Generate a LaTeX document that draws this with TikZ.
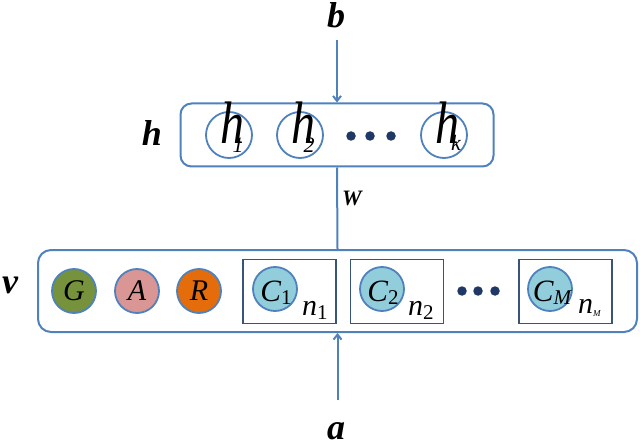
\documentclass[tikz,border=0pt]{standalone}
\usepackage{fontspec}
\setmainfont{Liberation Serif}
\usetikzlibrary{arrows.meta}
\definecolor{bl}{RGB}{79,129,189}
\definecolor{rectcol}{RGB}{56,84,122}
\definecolor{gcol}{RGB}{118,146,60}
\definecolor{acol}{RGB}{217,150,148}
\definecolor{rcol}{RGB}{228,108,10}
\definecolor{ccol}{RGB}{146,205,220}
\definecolor{dotcol}{RGB}{31,56,100}
\tikzset{
  layerbox/.style={draw=bl, line width=2pt, rounded corners=11pt, inner sep=0pt},
  unit/.style={circle, draw=bl, line width=1.8pt, minimum size=44pt, inner sep=0pt, font=\fontsize{30}{32}\selectfont\itshape},
  hunit/.style={circle, draw=bl, line width=1.8pt, minimum size=46pt, inner sep=0pt},
  cbox/.style={draw=rectcol, line width=1.8pt, minimum width=93pt, minimum height=64pt, inner sep=0pt},
  bigdot/.style={circle, fill=dotcol, minimum size=9.5pt, inner sep=0pt},
  conn/.style={draw=bl, line width=2pt},
  arr/.style={draw=bl, line width=2pt, -{Straight Barb[length=5pt,width=8pt]}},
  lbl/.style={font=\fontsize{36}{40}\selectfont\bfseries\itshape, inner sep=0pt, anchor=base},
  hglyph/.style={font=\fontsize{60}{62}\selectfont\itshape, inner sep=0pt},
  hsub/.style={font=\fontsize{22}{24}\selectfont\itshape, inner sep=0pt},
  nlbl/.style={font=\fontsize{30}{32}\selectfont\itshape, inner sep=0pt, anchor=base west}
}
\begin{document}
\begin{tikzpicture}[x=1pt,y=-1pt]
\useasboundingbox (0,0) rectangle (640,441);
% hidden layer
\node[layerbox, minimum width=313pt, minimum height=63pt] (hbox) at (337,135) {};
\node[hunit] (h1c) at (229,135) {};
\node[hunit] (h2c) at (300,135) {};
\node[hunit] (hkc) at (444,135) {};
\node[hglyph] (h1g) at (232,122.5) {\scalebox{0.8}[1]{h}};
\node[hglyph] (h2g) at (303,122.5) {\scalebox{0.8}[1]{h}};
\node[hglyph] (hkg) at (447,122.5) {\scalebox{0.8}[1]{h}};
\node[hsub] (h1s) at (238,145) {1};
\node[hsub] (h2s) at (309,145) {2};
\node[hsub] (hks) at (456,143) {k};
\node[bigdot] (hd1) at (351,136) {};
\node[bigdot] (hd2) at (370,136) {};
\node[bigdot] (hd3) at (391,136) {};
\node[lbl] (hl) at (152,146) {h};
% visible layer
\node[layerbox, minimum width=599pt, minimum height=82pt, rounded corners=13pt] (vbox) at (337.5,291) {};
\node[unit, fill=gcol] (G) at (74,291) {G};
\node[unit, fill=acol] (A) at (137,291) {A};
\node[unit, fill=rcol] (R) at (199,291) {R};
\node[cbox] (c1box) at (289.5,291.5) {};
\node[cbox] (c2box) at (397,291.5) {};
\node[cbox] (cMbox) at (565.5,291.5) {};
\node[unit, fill=ccol] (C1) at (275,289) {};
\node[unit, fill=ccol] (C2) at (382,289) {};
\node[unit, fill=ccol] (CM) at (550,289) {};
\node[font=\fontsize{31}{32}\selectfont, inner sep=0pt, anchor=base] (C1t) at (276,301) {\itshape C\normalfont\fontsize{21}{22}\selectfont\raisebox{-3pt}{1}};
\node[font=\fontsize{31}{32}\selectfont, inner sep=0pt, anchor=base] (C2t) at (383,301) {\itshape C\normalfont\fontsize{21}{22}\selectfont\raisebox{-3pt}{2}};
\node[font=\fontsize{31}{32}\selectfont, inner sep=0pt, anchor=base] (CMt) at (552,301) {\itshape C\fontsize{21}{22}\selectfont\raisebox{-3pt}{M}};
\node[nlbl] (n1) at (302,315) {n\normalfont\fontsize{21}{22}\selectfont\raisebox{-4pt}{1}};
\node[nlbl] (n2) at (408,315) {n\normalfont\fontsize{21}{22}\selectfont\raisebox{-4pt}{2}};
\node[nlbl] (nM) at (578,313) {n\fontsize{9}{10}\selectfont\raisebox{-3pt}{M}};
\node[bigdot] (vd1) at (462,291) {};
\node[bigdot] (vd2) at (478,291) {};
\node[bigdot] (vd3) at (495,291) {};
\node[lbl] (vl) at (10,293) {v};
% connectors
\coordinate (btop) at (337,40);
\coordinate (abot) at (337.5,400);
\draw[arr] (btop) -- (hbox.north);
\draw[conn] (hbox.south) -- (vbox.north);
\draw[arr] (abot) -- (vbox.south);
\node[lbl] (bl) at (336,28) {b};
\node[lbl] (al) at (336,439) {a};
\node[lbl, font=\fontsize{22}{24}\selectfont\bfseries\itshape] (W) at (352,205) {W};
\end{tikzpicture}
\end{document}
